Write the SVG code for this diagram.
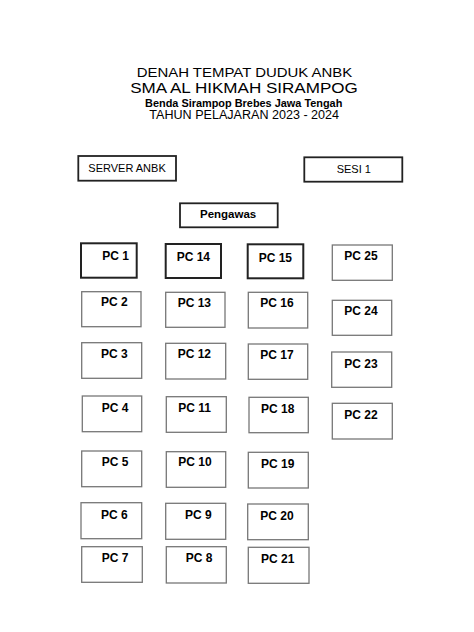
<svg xmlns="http://www.w3.org/2000/svg" width="474" height="632" viewBox="0 0 474 632">
<style>
.t{font-family:"Liberation Sans",Arial,sans-serif;fill:#000}
.h{font-size:12.5px}
.h2{font-size:14.5px}
.hb{font-size:10.5px;font-weight:bold}
.h3{font-size:12px}
.lbl{font-family:"Liberation Sans",Arial,sans-serif;font-size:11px;fill:#000}
.pc{font-family:"Liberation Sans",Arial,sans-serif;font-size:12px;font-weight:bold;fill:#000}
.bx{fill:#fff;stroke:#222;stroke-width:1.8}
.bk{fill:#fff;stroke:#222;stroke-width:2}
.gr{fill:#fff;stroke:#777;stroke-width:1.3}
</style>
<rect width="474" height="632" fill="#fff"/>
<g id="title">
<text class="t h" x="244.5" y="77" text-anchor="middle" textLength="215.6" lengthAdjust="spacingAndGlyphs">DENAH TEMPAT DUDUK ANBK</text>
<text class="t h2" x="244" y="93" text-anchor="middle" textLength="227.7" lengthAdjust="spacingAndGlyphs">SMA AL HIKMAH SIRAMPOG</text>
<text class="t hb" x="243.7" y="107" text-anchor="middle" textLength="197.3" lengthAdjust="spacingAndGlyphs">Benda Sirampop Brebes Jawa Tengah</text>
<text class="t h3" x="244.2" y="119" text-anchor="middle" textLength="189.7" lengthAdjust="spacingAndGlyphs">TAHUN PELAJARAN 2023 - 2024</text>
</g>
<g id="server"><rect class="bx" x="78.3" y="156" width="97.7" height="24.7"/><text class="lbl" x="88.3" y="171.7">SERVER ANBK</text></g>
<g id="sesi"><rect class="bx" x="304.3" y="157.3" width="98" height="24.4"/><text class="lbl" x="336.7" y="172.7">SESI 1</text></g>
<g id="pengawas"><rect class="bx" x="180" y="203.3" width="97.7" height="24"/><text class="lbl" x="200" y="218.3" style="font-weight:bold;font-size:11.5px">Pengawas</text></g>
<g id="pc1"><rect class="bk" x="81" y="243.3" width="55.7" height="34.4"/><text class="pc" x="102.3" y="260">PC 1</text></g>
<g id="pc14"><rect class="bk" x="165.7" y="244" width="55.3" height="34"/><text class="pc" x="176.7" y="260.7">PC 14</text></g>
<g id="pc15"><rect class="bk" x="247.7" y="244.3" width="55.6" height="34"/><text class="pc" x="258.7" y="261.7">PC 15</text></g>
<g id="pc25"><rect class="gr" x="332.3" y="245" width="60" height="35.3"/><text class="pc" x="344.3" y="260">PC 25</text></g>
<g id="pc2"><rect class="gr" x="81.7" y="291.7" width="59.3" height="35"/><text class="pc" x="101" y="306">PC 2</text></g>
<g id="pc13"><rect class="gr" x="165.7" y="292.3" width="59.3" height="35"/><text class="pc" x="177.7" y="306.7">PC 13</text></g>
<g id="pc16"><rect class="gr" x="248.3" y="292.3" width="59.4" height="35.7"/><text class="pc" x="260.3" y="307.3">PC 16</text></g>
<g id="pc24"><rect class="gr" x="332.3" y="300.3" width="59.4" height="35"/><text class="pc" x="344.3" y="315">PC 24</text></g>
<g id="pc3"><rect class="gr" x="81.7" y="342.7" width="60" height="35.6"/><text class="pc" x="101" y="358.3">PC 3</text></g>
<g id="pc12"><rect class="gr" x="165.7" y="343.3" width="60" height="35.7"/><text class="pc" x="177.7" y="358.3">PC 12</text></g>
<g id="pc17"><rect class="gr" x="248.3" y="344" width="59.4" height="35.3"/><text class="pc" x="260.3" y="359">PC 17</text></g>
<g id="pc23"><rect class="gr" x="331.7" y="352" width="60" height="35.3"/><text class="pc" x="344.3" y="367.7">PC 23</text></g>
<g id="pc4"><rect class="gr" x="82.3" y="396" width="59.4" height="35.7"/><text class="pc" x="101.7" y="411.7">PC 4</text></g>
<g id="pc11"><rect class="gr" x="166.3" y="396.7" width="60" height="35.6"/><text class="pc" x="178.3" y="412.3">PC 11</text></g>
<g id="pc18"><rect class="gr" x="249" y="397.3" width="59.3" height="35.4"/><text class="pc" x="261" y="413">PC 18</text></g>
<g id="pc22"><rect class="gr" x="332.3" y="403.3" width="60" height="35.7"/><text class="pc" x="344.3" y="419">PC 22</text></g>
<g id="pc5"><rect class="gr" x="81.7" y="451" width="60" height="35.7"/><text class="pc" x="101.7" y="466.3">PC 5</text></g>
<g id="pc10"><rect class="gr" x="166.3" y="451.7" width="59.4" height="35.6"/><text class="pc" x="178.3" y="466.3">PC 10</text></g>
<g id="pc19"><rect class="gr" x="248.3" y="452.3" width="60" height="35.7"/><text class="pc" x="261" y="467.7">PC 19</text></g>
<g id="pc6"><rect class="gr" x="81" y="502.7" width="60.7" height="36"/><text class="pc" x="101" y="518.7">PC 6</text></g>
<g id="pc9"><rect class="gr" x="165.7" y="503.3" width="60" height="36"/><text class="pc" x="185" y="518.7">PC 9</text></g>
<g id="pc20"><rect class="gr" x="247.7" y="504" width="60.6" height="35.7"/><text class="pc" x="260.3" y="520">PC 20</text></g>
<g id="pc7"><rect class="gr" x="81.7" y="546.7" width="60.6" height="35.6"/><text class="pc" x="101.7" y="562.3">PC 7</text></g>
<g id="pc8"><rect class="gr" x="166.3" y="546.7" width="60" height="36.3"/><text class="pc" x="185.7" y="562.3">PC 8</text></g>
<g id="pc21"><rect class="gr" x="248.3" y="547.3" width="60.7" height="36"/><text class="pc" x="261" y="563.3">PC 21</text></g>
</svg>
